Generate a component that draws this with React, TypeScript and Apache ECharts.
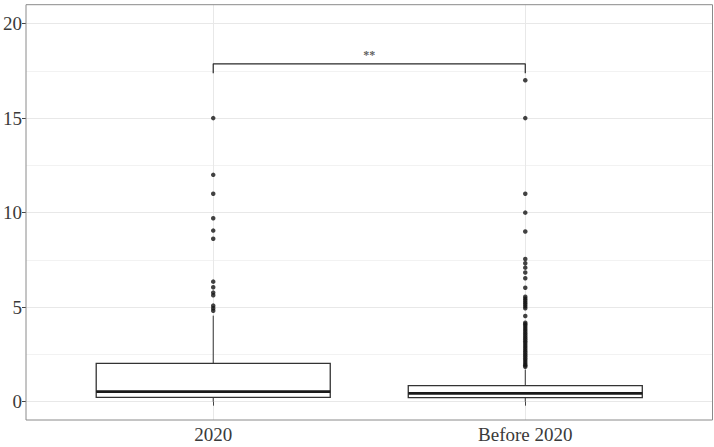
import React, { useEffect, useRef } from "react";
import * as echarts from "echarts";

// ---- data ----
const categories = ["2020", "Before 2020"];
// [position, lowerWhisker, Q1, median, Q3, upperWhisker]
const box2020 = [1, 0, 0.23, 0.53, 2.03, 4.55];
const boxBefore2020 = [2, 0, 0.21, 0.44, 0.85, 1.7];
const outliers2020 = [15, 12, 11, 9.7, 9.05, 8.62, 6.35, 6.05, 5.77, 5.63, 5.08, 4.94, 4.81];
const outliersBefore2020 = [
  17, 15, 11, 10, 9, 7.55, 7.32, 7.09, 6.83, 6.53, 6.03, 5.55, 5.45, 5.35, 5.25, 5.15,
  5.05, 4.94, 4.53, 4.18, 4.1, 4.0, 3.9, 3.8, 3.7, 3.6, 3.5, 3.4, 3.3, 3.2, 3.1, 3.0,
  2.9, 2.8, 2.7, 2.6, 2.5, 2.4, 2.3, 2.2, 2.1, 2.0, 1.92, 1.85,
];
const yTicks = [0, 5, 10, 15, 20];
const yMinorGrid = [2.5, 7.5, 12.5, 17.5];
const bracketY = [17.37, 17.87];
const sigLabel = "**";
const sigLabelY = 18.35;

const BOX_HALF = 0.375;
const FONT = "'Liberation Serif', 'Times New Roman', serif";

export default function App() {
  const ref = useRef<HTMLDivElement>(null);
  useEffect(() => {
    document.body.style.margin = "0";
    if (!ref.current) return;
    const chart = echarts.init(ref.current, undefined, { renderer: "svg" });
    const positions = categories.map((_, i) => i + 1);
    const option: any = {
      animation: false,
      backgroundColor: "#ffffff",
      grid: {
        left: 21,
        right: 1.5,
        top: 4.7,
        bottom: 27,
        show: true,
        borderColor: "#8a8a8a",
        borderWidth: 1,
        backgroundColor: "transparent",
        z: 10,
      },
      xAxis: {
        type: "value",
        min: 0.4,
        max: 2.6,
        axisLine: { show: false },
        splitLine: { show: false },
        axisTick: {
          show: true,
          customValues: positions,
          length: 4,
          lineStyle: { color: "#444", width: 1 },
        },
        axisLabel: {
          show: true,
          customValues: positions,
          formatter: (v: number) => categories[Math.round(v) - 1] ?? "",
          margin: 5,
          fontFamily: FONT,
          fontSize: 19,
          color: "#3a3a3a",
        },
      },
      yAxis: {
        type: "value",
        min: -0.97,
        max: 21.0,
        axisLine: { show: false },
        splitLine: { show: false },
        axisTick: {
          show: true,
          customValues: yTicks,
          length: 4,
          lineStyle: { color: "#444", width: 1 },
        },
        axisLabel: {
          show: true,
          customValues: yTicks,
          margin: 4,
          fontFamily: FONT,
          fontSize: 19,
          color: "#3a3a3a",
        },
      },
      series: [
        {
          type: "line",
          data: [[1, 0]],
          symbol: "none",
          silent: true,
          z: 0,
          zlevel: 0,
          lineStyle: { opacity: 0 },
          markLine: {
            silent: true,
            z: 0,
            symbol: ["none", "none"],
            label: { show: false },
            emphasis: { disabled: true },
            data: [
              ...yMinorGrid.map((v) => ({ yAxis: v, lineStyle: { color: "#f2f2f2", width: 1, type: "solid" } })),
              ...yTicks.map((v) => ({ yAxis: v, lineStyle: { color: "#e8e8e8", width: 1, type: "solid" } })),
              ...positions.map((v) => ({ xAxis: v, lineStyle: { color: "#e8e8e8", width: 1, type: "solid" } })),
            ],
          },
        },
        {
          type: "custom",
          z: 2,
          silent: true,
          data: [box2020, boxBefore2020],
          encode: { x: 0, y: [1, 2, 3, 4, 5] },
          renderItem: (_params: any, api: any) => {
            const x = api.value(0);
            const lo = api.value(1);
            const q1 = api.value(2);
            const med = api.value(3);
            const q3 = api.value(4);
            const hi = api.value(5);
            const pTL = api.coord([x - BOX_HALF, q3]);
            const pBR = api.coord([x + BOX_HALF, q1]);
            const pML = api.coord([x - BOX_HALF, med]);
            const pMR = api.coord([x + BOX_HALF, med]);
            const pHi = api.coord([x, hi]);
            const pQ3 = api.coord([x, q3]);
            const pQ1 = api.coord([x, q1]);
            const pLo = api.coord([x, lo]);
            return {
              type: "group",
              children: [
                {
                  type: "line",
                  shape: { x1: pHi[0], y1: pHi[1], x2: pQ3[0], y2: pQ3[1] },
                  style: { stroke: "#333", lineWidth: 1 },
                },
                {
                  type: "line",
                  shape: { x1: pLo[0], y1: pLo[1], x2: pQ1[0], y2: pQ1[1] },
                  style: { stroke: "#333", lineWidth: 1 },
                },
                {
                  type: "rect",
                  shape: { x: pTL[0], y: pTL[1], width: pBR[0] - pTL[0], height: pBR[1] - pTL[1] },
                  style: { fill: "#ffffff", stroke: "#333", lineWidth: 1.3 },
                },
                {
                  type: "line",
                  shape: { x1: pML[0], y1: pML[1], x2: pMR[0], y2: pMR[1] },
                  style: { stroke: "#1a1a1a", lineWidth: 2.6 },
                },
              ],
            };
          },
        },
        {
          type: "scatter",
          z: 3,
          silent: true,
          symbol: "circle",
          symbolSize: 4.5,
          itemStyle: { color: "#141414" },
          data: [
            ...outliers2020.map((v) => [1, v]),
            ...outliersBefore2020.map((v) => [2, v]),
          ],
        },
        {
          type: "line",
          z: 3,
          silent: true,
          symbol: "none",
          lineStyle: { color: "#2a2a2a", width: 1.2 },
          data: [
            [1, bracketY[0]],
            [1, bracketY[1]],
            [2, bracketY[1]],
            [2, bracketY[0]],
          ],
        },
        {
          type: "scatter",
          z: 3,
          silent: true,
          symbolSize: 1,
          itemStyle: { color: "rgba(0,0,0,0)" },
          data: [[1.5, sigLabelY]],
          label: {
            show: true,
            position: "inside",
            formatter: sigLabel,
            fontFamily: FONT,
            fontSize: 12,
            fontWeight: "bold",
            color: "#333333",
            textBorderWidth: 0,
            textBorderColor: "transparent",
            textShadowBlur: 0,
          },
        },
      ],
    };
    chart.setOption(option);
    return () => chart.dispose();
  }, []);
  return <div ref={ref} style={{ width: 714, height: 447 }} />;
}
